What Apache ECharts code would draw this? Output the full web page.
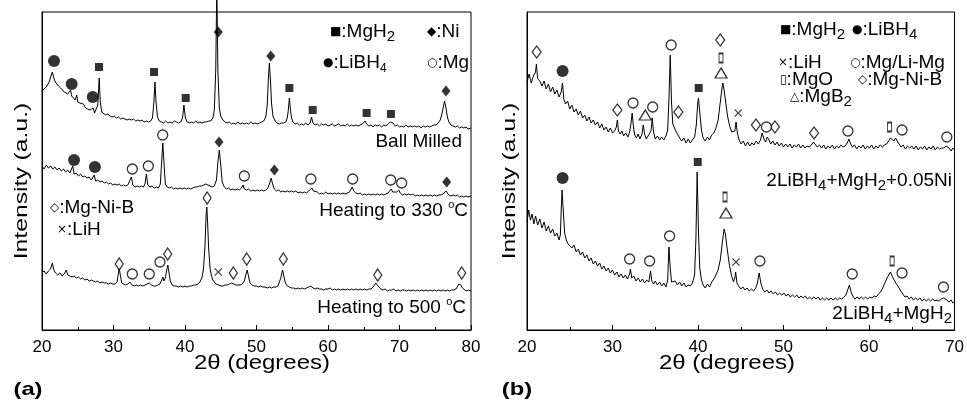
<!DOCTYPE html>
<html>
<head>
<meta charset="utf-8">
<script src="https://cdn.jsdelivr.net/npm/echarts@6.0.0/dist/echarts.min.js"></script>
<style>
  html, body { margin: 0; padding: 0; background: #fff; }
  #chart { width: 967px; height: 403px; }
</style>
</head>
<body>
<div id="chart"></div>
<script>
// ---- panel (a): 2theta vs intensity (a.u.) ----
const ballMilled = [
  [20.0,239],[20.3,241],[20.6,243],[20.85,246],[21.05,249],[21.25,254],[21.45,258],[21.65,252],[21.85,248],[22.05,247],
  [22.3,244],[22.6,242],[22.85,240],[23.1,238],[23.35,237],[23.6,236],[23.85,235],[24.0,240],[24.15,234],[24.4,233],
  [24.65,230],[24.85,235],[25.0,228],[25.3,227],[25.55,225],[25.8,226],[26.1,222],[26.4,221],[26.7,220],[26.95,219],
  [27.15,222],[27.35,217],[27.6,218],[27.8,225],[28.0,252],[28.15,228],[28.35,218],[28.6,217],[28.9,215],[29.2,216],
  [29.5,214],[29.8,213],[30.1,214],[30.4,212],[30.7,213],[31.0,211],[31.3,212],[31.6,211],[31.9,210],[32.2,211],
  [32.5,210],[32.8,211],[33.1,209],[33.4,210],[33.7,209],[34.0,210],[34.3,208],[34.6,209],[34.9,208],[35.2,209],
  [35.45,212],[35.65,228],[35.8,248],[35.95,228],[36.15,213],[36.4,209],[36.7,208],[37.0,207],[37.3,209],[37.6,207],
  [37.9,208],[38.2,207],[38.5,209],[38.8,208],[39.1,207],[39.4,208],[39.65,212],[39.85,225],[40.05,212],[40.3,208],
  [40.6,207],[40.9,208],[41.2,207],[41.5,209],[41.8,207],[42.1,208],[42.4,207],[42.7,208],[43.0,208],[43.3,209],
  [43.6,209],[43.9,212],[44.1,220],[44.3,260],[44.45,345],[44.6,260],[44.8,222],[45.0,214],[45.3,210],[45.6,208],
  [45.9,207],[46.2,208],[46.5,206],[46.8,207],[47.1,206],[47.4,208],[47.7,206],[48.0,207],[48.3,206],[48.6,207],
  [48.9,206],[49.2,208],[49.5,206],[49.8,207],[50.1,206],[50.4,207],[50.7,208],[51.0,209],[51.3,213],[51.5,225],
  [51.65,250],[51.8,267],[51.95,250],[52.1,227],[52.3,214],[52.6,209],[52.9,207],[53.2,206],[53.5,207],[53.8,207],
  [54.1,208],[54.3,212],[54.45,220],[54.6,232],[54.75,220],[54.9,212],[55.1,208],[55.4,206],[55.7,207],[56.0,205],
  [56.3,206],[56.6,205],[56.9,207],[57.2,205],[57.5,207],[57.7,213],[57.9,207],[58.2,205],[58.5,206],[58.8,204],
  [59.1,206],[59.4,205],[59.7,206],[60.0,204],[60.3,205],[60.6,206],[60.9,204],[61.2,205],[61.5,206],[61.8,204],
  [62.1,205],[62.4,204],[62.7,206],[63.0,204],[63.3,205],[63.6,204],[63.9,205],[64.2,204],[64.5,205],[64.8,206],
  [65.0,207],[65.2,209],[65.4,206],[65.7,204],[66.0,205],[66.3,203],[66.6,205],[66.9,204],[67.2,205],[67.5,203],
  [67.8,205],[68.1,204],[68.4,206],[68.7,208],[68.9,206],[69.1,207],[69.4,204],[69.7,205],[70.0,203],[70.3,204],
  [70.6,203],[70.9,205],[71.2,203],[71.5,204],[71.8,203],[72.1,204],[72.4,203],[72.7,204],[73.0,202],[73.3,204],
  [73.6,203],[73.9,204],[74.2,203],[74.5,204],[74.8,205],[75.1,205],[75.4,207],[75.7,210],[75.9,215],[76.1,222],
  [76.3,229],[76.5,222],[76.7,213],[76.9,208],[77.2,205],[77.5,204],[77.8,203],[78.1,204],[78.4,202],[78.7,203],
  [79.0,202],[79.3,203],[79.6,201],[80.0,202]
];
const heated330 = [
  [20.0,164],[20.3,161],[20.6,165],[20.9,162],[21.2,164],[21.5,161],[21.8,163],[22.1,160],[22.4,162],[22.7,159],
  [23.0,161],[23.3,158],[23.6,160],[23.9,157],[24.1,159],[24.3,164],[24.5,156],[24.8,157],[25.1,154],[25.4,156],
  [25.7,153],[26.0,154],[26.3,152],[26.6,153],[26.9,150],[27.1,151],[27.3,155],[27.5,149],[27.8,150],[28.1,148],
  [28.4,149],[28.7,147],[29.0,148],[29.3,146],[29.6,147],[29.9,145],[30.2,146],[30.5,145],[30.8,146],[31.1,144],
  [31.4,145],[31.7,144],[32.0,145],[32.25,146],[32.5,153],[32.7,145],[33.0,143],[33.3,144],[33.6,143],[33.9,144],
  [34.2,143],[34.4,146],[34.6,156],[34.8,145],[35.1,143],[35.4,144],[35.7,142],[36.0,143],[36.3,142],[36.55,146],
  [36.75,170],[36.9,187],[37.05,168],[37.25,146],[37.5,143],[37.8,142],[38.1,143],[38.4,141],[38.7,142],[39.0,141],
  [39.3,142],[39.6,141],[39.9,142],[40.2,141],[40.5,142],[40.8,141],[41.1,142],[41.4,143],[41.7,143],[42.0,144],
  [42.3,144],[42.6,145],[42.9,146],[43.2,145],[43.5,144],[43.8,143],[44.1,144],[44.4,150],[44.6,168],[44.8,180],
  [45.0,165],[45.2,148],[45.5,143],[45.8,141],[46.1,142],[46.4,140],[46.7,141],[47.0,140],[47.3,141],[47.6,140],
  [47.9,142],[48.1,145],[48.3,141],[48.6,140],[48.9,141],[49.2,139],[49.5,140],[49.8,139],[50.1,140],[50.4,139],
  [50.7,140],[51.0,139],[51.3,140],[51.6,142],[51.85,147],[52.05,152],[52.25,146],[52.5,141],[52.8,139],[53.1,140],
  [53.4,138],[53.7,139],[54.0,138],[54.3,139],[54.6,138],[54.9,139],[55.2,138],[55.5,139],[55.8,137],[56.1,138],
  [56.4,137],[56.7,138],[57.0,137],[57.3,139],[57.55,141],[57.75,142],[57.95,139],[58.2,137],[58.5,138],[58.8,136],
  [59.1,137],[59.4,136],[59.7,138],[60.0,136],[60.3,137],[60.6,136],[60.9,137],[61.2,136],[61.5,137],[61.8,136],
  [62.1,137],[62.4,136],[62.7,137],[63.0,138],[63.2,140],[63.4,143],[63.6,139],[63.9,137],[64.2,136],[64.5,137],
  [64.8,135],[65.1,136],[65.4,135],[65.7,136],[66.0,135],[66.3,136],[66.6,135],[66.9,136],[67.2,135],[67.5,136],
  [67.8,135],[68.1,136],[68.4,137],[68.65,139],[68.85,141],[69.05,138],[69.3,137],[69.6,138],[69.9,140],[70.1,137],
  [70.4,135],[70.7,136],[71.0,135],[71.3,136],[71.6,135],[71.9,136],[72.2,134],[72.5,135],[72.8,134],[73.1,135],
  [73.4,134],[73.7,135],[74.0,134],[74.3,135],[74.6,134],[74.9,135],[75.2,134],[75.5,135],[75.8,135],[76.1,136],
  [76.3,138],[76.5,139],[76.7,137],[76.9,135],[77.2,134],[77.5,135],[77.8,134],[78.1,135],[78.4,133],[78.7,134],
  [79.0,133],[79.3,134],[79.6,133],[80.0,134]
];
const heated500 = [
  [20.0,57],[20.3,59],[20.6,56],[20.9,59],[21.2,61],[21.45,67],[21.65,60],[21.9,57],[22.2,55],[22.5,57],
  [22.8,54],[23.1,56],[23.4,60],[23.6,55],[23.9,54],[24.2,53],[24.5,54],[24.8,52],[25.1,53],[25.4,51],
  [25.7,52],[26.0,50],[26.3,51],[26.6,49],[26.9,50],[27.2,49],[27.5,48],[27.8,49],[28.1,47],[28.4,48],
  [28.7,47],[29.0,47],[29.3,46],[29.6,47],[29.9,46],[30.2,46],[30.5,48],[30.65,55],[30.8,62],[30.95,55],
  [31.15,47],[31.4,46],[31.7,45],[32.0,46],[32.3,48],[32.6,45],[32.9,44],[33.2,45],[33.5,44],[33.8,45],
  [34.1,44],[34.4,45],[34.7,46],[35.0,47],[35.3,45],[35.6,44],[35.9,44],[36.2,45],[36.5,46],[36.75,50],
  [36.9,53],[37.05,49],[37.25,52],[37.45,60],[37.6,65],[37.75,58],[37.95,49],[38.2,45],[38.5,44],[38.8,44],
  [39.1,43],[39.4,44],[39.7,43],[40.0,44],[40.3,43],[40.6,44],[40.9,44],[41.2,45],[41.5,45],[41.8,46],
  [42.1,48],[42.4,53],[42.6,62],[42.8,85],[42.95,115],[43.05,123],[43.15,110],[43.3,82],[43.5,62],[43.7,54],
  [43.9,50],[44.1,48],[44.3,46],[44.5,47],[44.7,45],[45.0,44],[45.3,44],[45.6,45],[45.9,45],[46.2,46],
  [46.5,47],[46.8,46],[47.1,45],[47.4,45],[47.7,45],[48.0,46],[48.3,49],[48.5,55],[48.7,60],[48.9,53],
  [49.1,47],[49.4,45],[49.7,44],[50.0,44],[50.3,43],[50.6,44],[50.9,43],[51.2,43],[51.5,42],[51.8,43],
  [52.1,42],[52.4,43],[52.7,43],[53.0,44],[53.2,46],[53.4,52],[53.65,60],[53.85,53],[54.05,47],[54.3,44],
  [54.6,43],[54.9,42],[55.2,42],[55.5,41],[55.8,42],[56.1,41],[56.4,42],[56.7,41],[57.0,42],[57.3,43],
  [57.6,44],[57.9,42],[58.2,41],[58.5,42],[58.8,41],[59.1,41],[59.4,40],[59.7,41],[60.0,41],[60.3,42],
  [60.6,40],[60.9,41],[61.2,40],[61.5,41],[61.8,40],[62.1,41],[62.4,40],[62.7,41],[63.0,40],[63.3,41],
  [63.6,40],[63.9,41],[64.2,40],[64.5,41],[64.8,40],[65.1,41],[65.4,40],[65.7,41],[66.0,41],[66.3,43],
  [66.5,45],[66.7,47],[66.9,45],[67.1,43],[67.4,41],[67.7,40],[68.0,41],[68.3,39],[68.6,40],[68.9,40],
  [69.2,41],[69.5,39],[69.8,40],[70.1,39],[70.4,40],[70.7,40],[71.0,39],[71.3,40],[71.6,39],[71.9,40],
  [72.2,39],[72.5,40],[72.8,39],[73.1,40],[73.4,39],[73.7,40],[74.0,39],[74.3,40],[74.6,39],[74.9,40],
  [75.2,39],[75.5,40],[75.8,39],[76.1,40],[76.4,39],[76.7,40],[77.0,39],[77.3,40],[77.6,40],[77.9,41],
  [78.1,43],[78.3,46],[78.45,47],[78.6,45],[78.8,42],[79.0,40],[79.3,39],[79.6,40],[80.0,39]
];

// ---- panel (b) ----
const withNi = [
  [20.0,248],[20.25,256],[20.5,247],[20.75,254],[21.0,258],[21.1,266],[21.25,251],[21.5,249],[21.75,244],[22.0,249],
  [22.25,241],[22.5,246],[22.75,238],[23.0,243],[23.25,236],[23.5,240],[23.75,233],[24.0,238],[24.15,247],[24.3,231],
  [24.5,226],[24.75,229],[25.0,221],[25.25,225],[25.5,218],[25.75,221],[26.0,215],[26.25,219],[26.5,212],[26.75,215],
  [27.0,209],[27.25,213],[27.5,207],[27.75,210],[28.0,205],[28.25,208],[28.5,202],[28.75,206],[29.0,200],[29.25,203],
  [29.5,198],[29.75,202],[30.0,197],[30.25,199],[30.45,203],[30.57,210],[30.7,199],[30.9,196],[31.1,199],[31.3,194],
  [31.55,197],[31.8,193],[32.0,198],[32.15,206],[32.3,217],[32.45,203],[32.6,195],[32.8,192],[33.0,196],[33.2,191],
  [33.45,196],[33.6,205],[33.75,196],[33.95,191],[34.15,194],[34.35,192],[34.5,199],[34.65,212],[34.8,198],[35.0,191],
  [35.25,194],[35.5,190],[35.75,193],[36.0,190],[36.25,194],[36.45,200],[36.6,230],[36.75,275],[36.9,228],[37.05,206],
  [37.2,204],[37.4,199],[37.6,196],[37.85,192],[38.1,189],[38.35,192],[38.6,187],[38.85,191],[39.1,187],[39.35,190],
  [39.6,193],[39.8,205],[39.95,225],[40.05,232],[40.2,218],[40.4,200],[40.6,192],[40.85,189],[41.1,193],[41.35,190],
  [41.6,195],[41.85,197],[42.1,202],[42.35,210],[42.55,224],[42.75,238],[42.9,247],[43.05,240],[43.25,227],[43.45,214],
  [43.7,204],[43.95,198],[44.15,196],[44.3,199],[44.45,208],[44.6,197],[44.8,190],[45.05,186],[45.3,189],[45.55,184],
  [45.8,188],[46.05,184],[46.3,187],[46.55,185],[46.8,189],[47.05,186],[47.3,190],[47.5,197],[47.7,191],[47.9,188],
  [48.1,193],[48.3,190],[48.5,186],[48.75,189],[49.0,185],[49.25,188],[49.5,184],[49.75,187],[50.0,183],[50.25,186],
  [50.5,183],[50.75,186],[51.0,182],[51.25,185],[51.5,183],[51.75,186],[52.0,182],[52.25,185],[52.5,182],[52.75,184],
  [53.0,183],[53.25,185],[53.5,188],[53.7,186],[53.95,183],[54.2,185],[54.45,182],[54.7,185],[54.95,181],[55.2,184],
  [55.45,182],[55.7,185],[55.95,181],[56.2,184],[56.45,182],[56.7,185],[56.95,183],[57.2,184],[57.45,187],[57.65,191],
  [57.85,186],[58.05,183],[58.3,185],[58.55,181],[58.8,184],[59.05,182],[59.3,185],[59.55,181],[59.8,184],[60.05,182],
  [60.3,185],[60.55,181],[60.8,184],[61.05,182],[61.3,185],[61.55,183],[61.8,185],[62.05,186],[62.3,189],[62.5,192],
  [62.7,193],[62.9,189],[63.1,192],[63.3,190],[63.5,186],[63.75,183],[64.0,185],[64.25,181],[64.5,184],[64.75,182],
  [65.0,184],[65.25,181],[65.5,184],[65.75,180],[66.0,183],[66.25,181],[66.5,184],[66.75,180],[67.0,183],[67.25,181],
  [67.5,184],[67.75,180],[68.0,183],[68.25,181],[68.5,182],[68.75,182],[69.0,184],[69.15,186],[69.35,182],[69.6,179],
  [69.8,182],[70.0,180]
];
const noNi = [
  [20.0,108],[20.2,120],[20.4,110],[20.6,116],[20.8,106],[21.0,114],[21.25,105],[21.5,111],[21.75,102],[22.0,108],
  [22.25,99],[22.5,104],[22.75,97],[23.0,101],[23.25,94],[23.5,97],[23.75,90],[23.9,95],[24.0,120],[24.1,140],
  [24.25,118],[24.4,97],[24.6,90],[24.8,86],[25.0,88],[25.25,82],[25.5,85],[25.75,78],[26.0,81],[26.25,75],
  [26.5,78],[26.75,72],[27.0,75],[27.25,69],[27.5,72],[27.75,66],[28.0,69],[28.25,64],[28.5,67],[28.75,61],
  [29.0,64],[29.25,59],[29.5,62],[29.75,57],[30.0,60],[30.25,55],[30.5,58],[30.75,53],[31.0,56],[31.25,52],
  [31.5,55],[31.75,51],[32.0,56],[32.1,61],[32.25,52],[32.5,54],[32.75,49],[33.0,52],[33.25,48],[33.5,51],
  [33.75,47],[34.0,50],[34.25,48],[34.45,59],[34.6,49],[34.8,46],[35.0,49],[35.25,45],[35.5,48],[35.75,44],
  [36.0,47],[36.25,43],[36.45,50],[36.6,83],[36.75,62],[36.9,48],[37.1,46],[37.35,49],[37.6,45],[37.85,48],
  [38.1,44],[38.35,47],[38.6,43],[38.85,45],[39.1,44],[39.35,47],[39.6,55],[39.75,90],[39.9,158],[40.05,100],
  [40.2,62],[40.4,50],[40.6,45],[40.85,42],[41.1,46],[41.35,43],[41.6,48],[41.85,51],[42.1,55],[42.35,60],
  [42.6,70],[42.85,88],[43.05,101],[43.2,96],[43.4,82],[43.65,66],[43.9,55],[44.15,48],[44.3,52],[44.4,58],
  [44.55,47],[44.75,44],[45.0,41],[45.25,43],[45.5,40],[45.75,42],[46.0,39],[46.25,41],[46.5,39],[46.75,42],
  [46.95,47],[47.15,57],[47.35,47],[47.55,41],[47.8,38],[48.05,40],[48.3,37],[48.55,39],[48.8,36],[49.05,38],
  [49.3,35],[49.55,37],[49.8,35],[50.05,37],[50.3,34],[50.55,36],[50.8,33],[51.05,35],[51.3,33],[51.55,35],
  [51.8,32],[52.05,34],[52.3,32],[52.55,34],[52.8,31],[53.05,33],[53.3,31],[53.55,33],[53.8,31],[54.05,33],
  [54.3,30],[54.55,32],[54.8,30],[55.05,32],[55.3,30],[55.55,32],[55.8,30],[56.05,32],[56.3,30],[56.55,32],
  [56.8,31],[57.05,33],[57.3,35],[57.5,40],[57.7,45],[57.9,38],[58.1,34],[58.35,31],[58.6,33],[58.85,31],
  [59.1,33],[59.35,31],[59.6,33],[59.85,31],[60.1,33],[60.35,32],[60.6,34],[60.85,33],[61.1,36],[61.35,38],
  [61.6,42],[61.85,47],[62.1,52],[62.3,55],[62.5,58],[62.65,55],[62.8,52],[63.0,50],[63.2,46],[63.45,43],
  [63.7,39],[63.95,36],[64.2,33],[64.45,34],[64.7,31],[64.95,33],[65.2,30],[65.45,32],[65.7,30],[65.95,32],
  [66.2,29],[66.45,31],[66.7,29],[66.95,31],[67.2,29],[67.45,31],[67.7,29],[67.95,30],[68.2,29],[68.45,31],
  [68.7,32],[68.9,34],[69.1,30],[69.35,28],[69.6,30],[69.8,27],[70.0,28]
];

// ---- phase markers [2theta, height] ----
const aLiBH4 = [[21.68,269],[24.15,246],[27.1,233],[24.48,170],[27.4,163]];
const aMgH2 = [[27.97,263],[35.66,258],[40.1,232],[54.6,242],[57.86,220],[65.4,217],[68.8,216]];
const aNi = [[44.66,298],[52.0,274],[76.5,239],[44.76,188],[52.5,160],[76.6,148]];
const aMg = [[32.63,161],[34.87,164],[36.88,195],[48.3,154],[57.6,151],[63.45,151],[68.77,150],[70.3,147],
  [32.63,56],[35.0,56],[36.5,68]];
const aMgNiB = [[43.1,132],[30.8,66],[37.58,76],[46.76,57],[48.63,71],[53.75,71],[66.95,55],[78.7,57]];
const aLiH = [[44.66,58]];

const bMgNiB = [[21.13,278],[30.57,220],[37.7,218],[42.6,290],[46.77,205],[49.0,203],[53.57,197]];
const bLiBH4 = [[24.16,259],[24.16,152]];
const bMg = [[32.4,227],[34.7,223],[36.86,285],[48.0,203],[57.53,199],[63.86,200],[69.1,193],
  [32.0,71],[34.34,69],[36.67,94],[47.24,69],[58.03,56],[63.86,57],[68.7,43]];
const bMgB2 = [[33.83,215],[42.69,257],[43.27,117]];
const bMgH2 = [[40.08,242],[39.97,168]];
const bMgO = [[42.69,272],[62.4,203],[43.16,133],[62.7,69]];
const bLiH = [[44.7,217],[44.44,68]];

const xTicksA = { min: 20, max: 80, step: 10 };
const xTicksB = { min: 20, max: 70, step: 10 };

const FONT = '"Liberation Sans", Arial, Helvetica, sans-serif';
const CROSS = 'path://M0,1L1,0L5,4L9,0L10,1L6,5L10,9L9,10L5,6L1,10L0,9L4,5Z';

const chart = echarts.init(document.getElementById('chart'));

function xAxisFor(idx, t) {
  return {
    type: 'value', gridIndex: idx, min: t.min, max: t.max, interval: t.step,
    axisLine: { show: true, lineStyle: { color: '#000', width: 1 } },
    axisTick: { show: true, inside: true, length: 5, lineStyle: { color: '#000' } },
    minorTick: { show: true, splitNumber: 2, length: 3, lineStyle: { color: '#000' } },
    splitLine: { show: false },
    axisLabel: { color: '#000', fontSize: 17, fontFamily: FONT, margin: 9, showMinLabel: true, showMaxLabel: true }
  };
}
function yAxisFor(idx) {
  return {
    type: 'value', gridIndex: idx, min: 0, max: 318,
    axisLine: { show: true, lineStyle: { color: '#000' } },
    axisTick: { show: false }, axisLabel: { show: false }, splitLine: { show: false }
  };
}
function curve(idx, data) {
  return {
    type: 'line', xAxisIndex: idx, yAxisIndex: idx, data: data,
    symbol: 'none', clip: false, silent: true,
    lineStyle: { color: '#000', width: 1 }
  };
}
function marks(idx, data, symbol, size, filled) {
  return {
    type: 'scatter', xAxisIndex: idx, yAxisIndex: idx, data: data,
    symbol: symbol, symbolSize: size, silent: true, z: 5,
    itemStyle: filled
      ? { color: '#000' }
      : { color: '#fff', borderColor: '#000', borderWidth: 1.3 }
  };
}

const RICH = {
  n: { fontSize: 19, fontFamily: FONT, lineHeight: 24 },
  sub: { fontSize: 15, fontFamily: FONT, lineHeight: 12, verticalAlign: 'bottom' },
  sub2: { fontSize: 12, fontFamily: FONT, lineHeight: 10, verticalAlign: 'bottom' },
  sup: { fontSize: 11, fontFamily: FONT, lineHeight: 12, verticalAlign: 'top' },
  sym: { fontSize: 12, fontFamily: '"DejaVu Sans", sans-serif', lineHeight: 24 }
};
function txt(x, y, text, align, extra) {
  const el = {
    type: 'text', x: x, y: y, silent: true, z: 10,
    style: {
      text: text, fill: '#000', fontSize: 19, fontFamily: FONT,
      align: align, textAlign: align, verticalAlign: 'middle', textVerticalAlign: 'middle',
      rich: RICH
    }
  };
  return Object.assign(el, extra || {});
}
function plain(x, y, text, size, extra, weight) {
  return Object.assign({
    type: 'text', x: x, y: y, silent: true, z: 10,
    style: {
      text: text, fill: '#000', fontSize: size, fontFamily: FONT, fontWeight: weight || 'normal',
      align: 'center', textAlign: 'center', verticalAlign: 'middle', textVerticalAlign: 'middle'
    }
  }, extra || {});
}

const option = {
  animation: false,
  backgroundColor: '#fff',
  grid: [
    { left: 42, top: 12, width: 429, height: 318, show: true, borderColor: '#000', borderWidth: 1 },
    { left: 527, top: 12, width: 429, height: 318, show: true, borderColor: '#000', borderWidth: 1 }
  ],
  xAxis: [xAxisFor(0, xTicksA), xAxisFor(1, xTicksB)],
  yAxis: [yAxisFor(0), yAxisFor(1)],
  series: [
    curve(0, ballMilled), curve(0, heated330), curve(0, heated500),
    curve(1, withNi), curve(1, noNi),
    marks(0, aLiBH4, 'circle', 12, true),
    marks(0, aMgH2, 'rect', 8, true),
    marks(0, aNi, 'diamond', [9, 11], true),
    marks(0, aMg, 'circle', 10, false),
    marks(0, aMgNiB, 'diamond', [8, 12], false),
    marks(0, aLiH, CROSS, 8, true),
    marks(1, bMgNiB, 'diamond', [9, 12], false),
    marks(1, bLiBH4, 'circle', 12, true),
    marks(1, bMg, 'circle', 10, false),
    marks(1, bMgB2, 'triangle', [12, 10], false),
    marks(1, bMgH2, 'rect', 8, true),
    marks(1, bMgO, 'rect', [4, 9], false),
    marks(1, bLiH, CROSS, 8, true)
  ],
  graphic: [
    // panel (a) legend
    txt(330, 32, '{sym|■}{n|:MgH}{sub|2}', 'left'),
    txt(427, 32, '{sym|◆}{n|:Ni}', 'left'),
    txt(323, 63, '{sym|●}{n|:LiBH}{sub2|4}', 'left'),
    txt(427, 63, '{sym|○}{n|:Mg}', 'left'),
    txt(50, 208, '{sym|◇}{n|:Mg-Ni-B}', 'left'),
    txt(57, 230, '{sym|×}{n|:LiH}', 'left'),
    // panel (a) curve names
    txt(462, 142, '{n|Ball Milled}', 'right'),
    txt(468, 211, '{n|Heating to 330 }{sup|o}{n|C}', 'right'),
    txt(466, 308, '{n|Heating to 500 }{sup|o}{n|C}', 'right'),
    // panel (b) legend
    txt(780, 30, '{sym|■}{n|:MgH}{sub|2}', 'left'),
    txt(852, 30, '{sym|●}{n|:LiBH}{sub|4}', 'left'),
    txt(778, 63, '{sym|×}{n|:LiH}', 'left'),
    txt(850, 63, '{sym|○}{n|:Mg/Li-Mg}', 'left'),
    txt(780, 80, '{sym|▯}{n|:MgO}', 'left'),
    txt(858, 80, '{sym|◇}{n|:Mg-Ni-B}', 'left'),
    txt(790, 97, '{sym|△}{n|:MgB}{sub|2}', 'left'),
    // panel (b) curve names
    txt(952, 181, '{n|2LiBH}{sub|4}{n|+MgH}{sub|2}{n|+0.05Ni}', 'right'),
    txt(952, 314, '{n|2LiBH}{sub|4}{n|+MgH}{sub|2}', 'right'),
    // axis titles
    plain(262, 363, '2θ (degrees)', 20, { scaleX: 1.2 }),
    plain(727, 363, '2θ (degrees)', 20, { scaleX: 1.2 }),
    plain(22, 181, 'Intensity (a.u.)', 19, { rotation: Math.PI / 2, scaleX: 1.3 }),
    plain(510, 181, 'Intensity (a.u.)', 19, { rotation: Math.PI / 2, scaleX: 1.3 }),
    plain(28, 390, '(a)', 19, { scaleX: 1.25 }, 'bold'),
    plain(517, 390, '(b)', 19, { scaleX: 1.25 }, 'bold')
  ]
};
chart.setOption(option);
</script>
</body>
</html>
